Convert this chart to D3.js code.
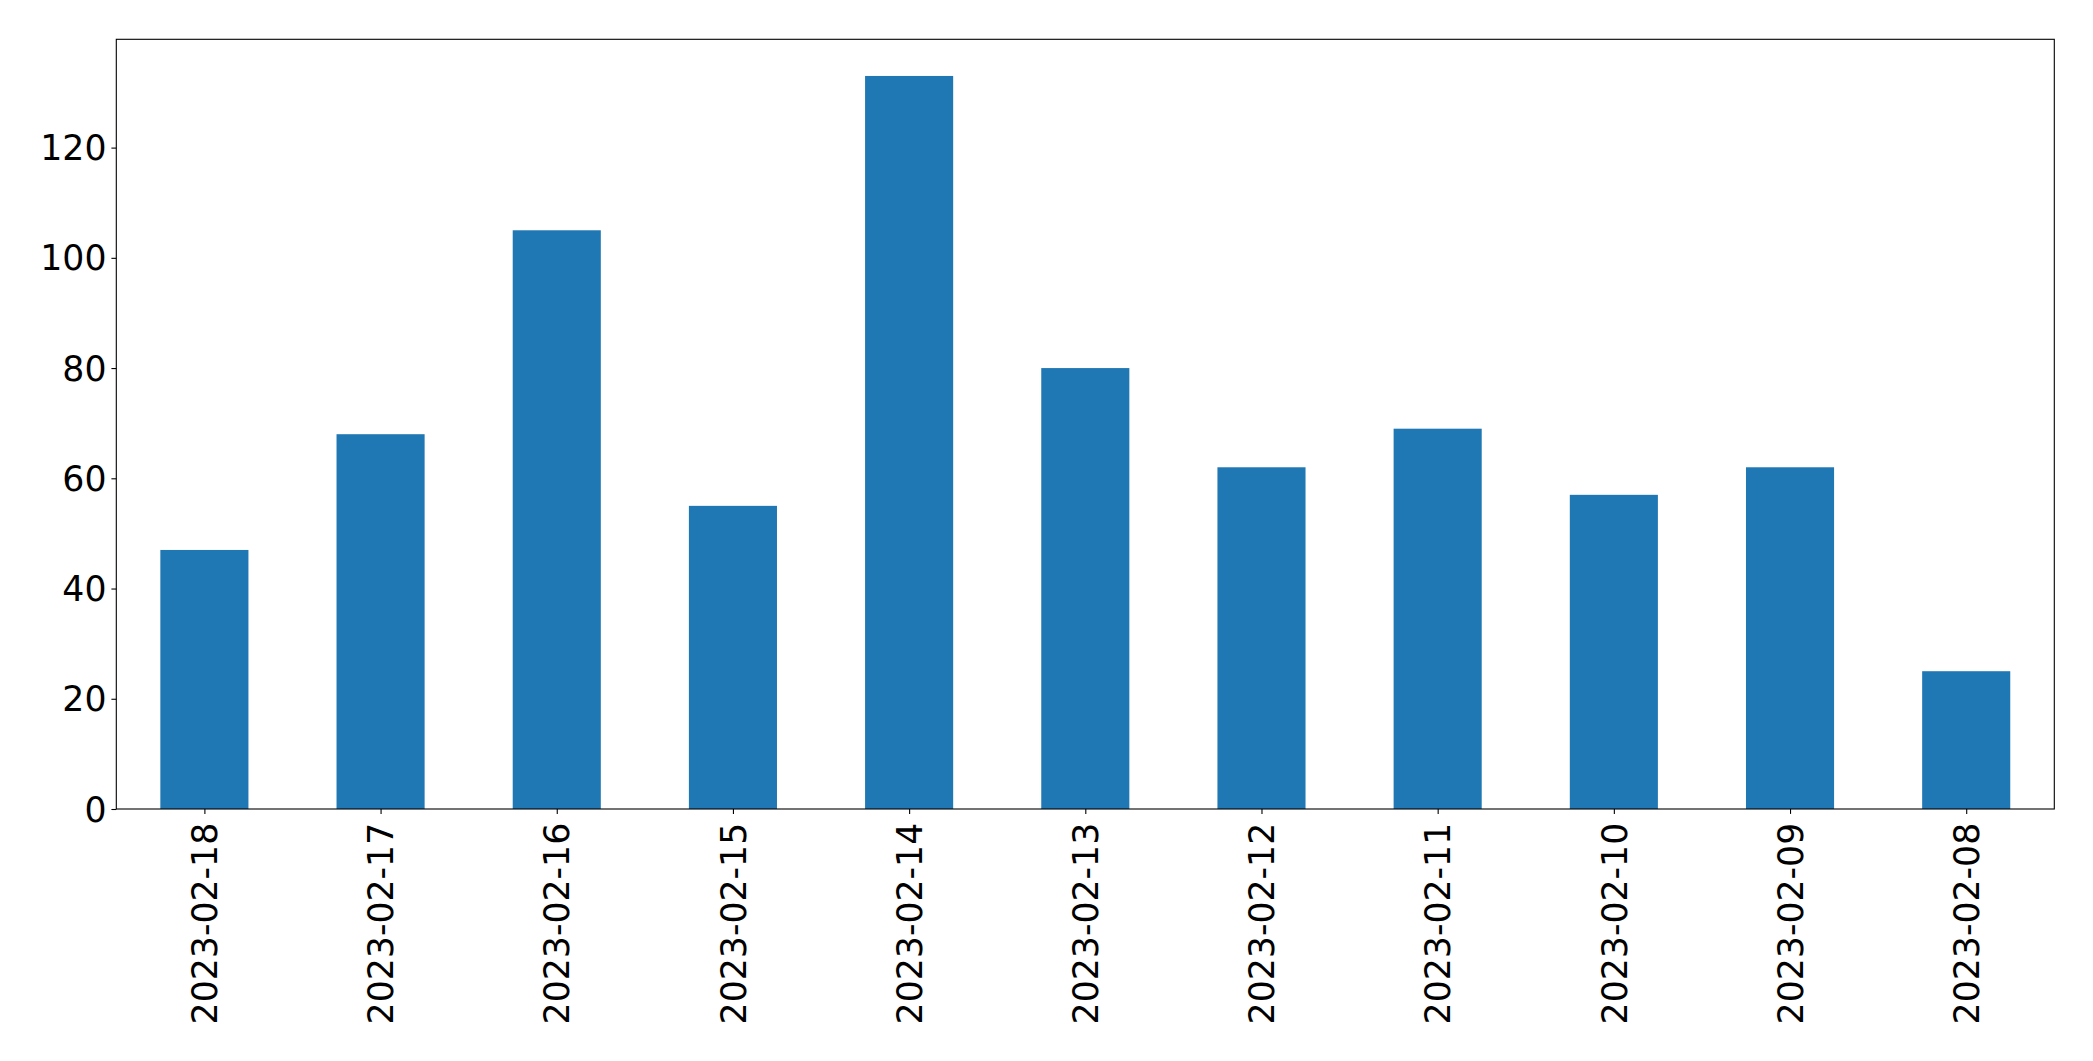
<!DOCTYPE html>
<html>
<head>
<meta charset="utf-8">
<script src="https://cdn.jsdelivr.net/npm/d3@7"></script>
<style>
  html, body { margin: 0; padding: 0; background: #fff; }
  svg { display: block; }
</style>
</head>
<body>
<svg id="chart" width="2093" height="1061"></svg>
<script>
const categories = ["2023-02-18","2023-02-17","2023-02-16","2023-02-15","2023-02-14","2023-02-13","2023-02-12","2023-02-11","2023-02-10","2023-02-09","2023-02-08"];
const values = [47, 68, 105, 55, 133, 80, 62, 69, 57, 62, 25];
const yTicks = [0, 20, 40, 60, 80, 100, 120];

const W = 2093, H = 1061;
const margin = { left: 116.3, right: W - 2054.3, top: 39.3, bottom: H - 809 };
const innerW = W - margin.left - margin.right;
const innerH = H - margin.top - margin.bottom;
const fontSize = 34.7;
const font = "'DejaVu Sans', sans-serif";

const svg = d3.select("#chart");
const g = svg.append("g").attr("transform", `translate(${margin.left},${margin.top})`);

// band-like linear scale mimicking matplotlib xlim (-0.5, n-0.5)
const x = d3.scaleLinear().domain([-0.5, categories.length - 0.5]).range([0, innerW]);
const yMax = d3.max(values) * 1.05;
const y = d3.scaleLinear().domain([0, yMax]).range([innerH, 0]);
const barWidth = 0.5;

g.selectAll("rect.bar")
  .data(values)
  .enter().append("rect")
  .attr("class", "bar")
  .attr("x", (d, i) => x(i - barWidth / 2))
  .attr("width", (d, i) => x(i + barWidth / 2) - x(i - barWidth / 2))
  .attr("y", d => y(d))
  .attr("height", d => y(0) - y(d))
  .attr("fill", "#1f77b4");

// frame
g.append("rect")
  .attr("x", 0).attr("y", 0).attr("width", innerW).attr("height", innerH)
  .attr("fill", "none").attr("stroke", "#000").attr("stroke-width", 1.1);

// y axis
const yAxis = d3.axisLeft(y).tickValues(yTicks).tickSize(4.9).tickPadding(4.9);
const ya = g.append("g").call(yAxis);
ya.select(".domain").remove();
ya.selectAll(".tick line").attr("stroke", "#000").attr("stroke-width", 1.1);
ya.selectAll(".tick text")
  .attr("font-family", font).attr("font-size", fontSize).attr("fill", "#000")
  .attr("dy", "0.35em");

// x axis
const xAxis = d3.axisBottom(x)
  .tickValues(d3.range(categories.length))
  .tickFormat(i => categories[i])
  .tickSize(4.9).tickPadding(4.9);
const xa = g.append("g").attr("transform", `translate(0,${innerH})`).call(xAxis);
xa.select(".domain").remove();
xa.selectAll(".tick line").attr("stroke", "#000").attr("stroke-width", 1.1);
xa.selectAll(".tick text")
  .attr("font-family", font).attr("font-size", fontSize).attr("fill", "#000")
  .attr("text-anchor", "end")
  .attr("transform", "rotate(-90)")
  .attr("x", -(4.9 + 4.9 + 4))
  .attr("y", 0)
  .attr("dy", "0.35em");
</script>
</body>
</html>
